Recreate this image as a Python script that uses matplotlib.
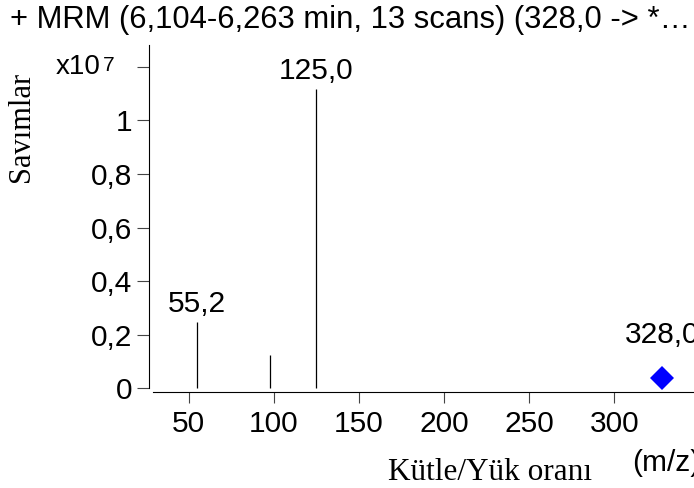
import matplotlib
matplotlib.use('Agg')
import matplotlib.pyplot as plt

plt.rcParams['font.family'] = ['Liberation Sans', 'DejaVu Sans']

# ---- data (counts in absolute units) ----
peak_mz = [55.2, 98.0, 125.0]
peak_counts = [0.246e7, 0.124e7, 1.116e7]
peak_labels = ["55,2", "", "125,0"]
precursor_mz = [328.0]
precursor_counts = [0.040e7]
precursor_labels = ["328,0"]
scale = 1e7
y_ticks = [0, 0.2, 0.4, 0.6, 0.8, 1.0, 1.2]
y_ticklabels = ["0", "0,2", "0,4", "0,6", "0,8", "1", ""]
x_ticks = [50, 100, 150, 200, 250, 300]
x_ticklabels = ["50", "100", "150", "200", "250", "300"]
title = "+ MRM (6,104-6,263 min, 13 scans) (328,0 -> *\u2026"

W, H = 694, 488
fig = plt.figure(figsize=(W / 100, H / 100), dpi=100)


def fx(px):
    return px / W


def fy(py):
    return (H - py) / H


ax = fig.add_axes([fx(149), fy(391.7), fx(720) - fx(149), fy(45) - fy(391.7)])
ax.set_xlim(26.8, 362.1)
ax.set_ylim(-0.0127, 1.281)
ax.patch.set_alpha(0)
for s in ['top', 'right']:
    ax.spines[s].set_visible(False)
for s in ['left', 'bottom']:
    ax.spines[s].set_linewidth(0.8)
    ax.spines[s].set_color('black')
ax.spines['left'].set_bounds(0, 1.281)
ax.spines['bottom'].set_bounds(29.0, 362.1)

heights = [c / scale for c in peak_counts]
ax.vlines(peak_mz, 0, heights, colors='black', lw=0.9)
for m, h, lab in zip(peak_mz, heights, peak_labels):
    if lab:
        ax.annotate(lab, xy=(m, h), xytext=(0, 7.6), textcoords='offset points',
                    ha='center', va='baseline', fontsize=21.5, annotation_clip=False)

pc = [c / scale for c in precursor_counts]
ax.plot(precursor_mz, pc, ls='none', marker='D', ms=12.5, color='#0000FF',
        mew=0, clip_on=False)
for m, h, lab in zip(precursor_mz, pc, precursor_labels):
    ax.annotate(lab, xy=(m, h), xytext=(0, 25), textcoords='offset points',
                ha='center', va='baseline', fontsize=21.5, annotation_clip=False)

ax.set_yticks(y_ticks)
ax.set_yticklabels(y_ticklabels)
ax.set_xticks(x_ticks)
ax.set_xticklabels(x_ticklabels)
ax.tick_params(axis='y', direction='out', length=8.5, width=0.8, color='#444444',
               labelsize=21.5, pad=3.6)
ax.tick_params(axis='x', direction='out', length=8, width=0.8, color='#444444',
               labelsize=21.5, pad=5.5)

# exponent label at top of y axis
fig.text(fx(100.5), fy(67.5), "x10", ha='right', va='center', fontsize=20)
fig.text(fx(103), fy(56), "7", ha='left', va='top', fontsize=15)

# title
fig.text(fx(10), fy(28), title, ha='left', va='baseline', fontsize=22.3)

# axis labels
fig.text(fx(22), fy(127), "Savımlar", rotation=90, ha='center', va='center',
         fontsize=22, family=['Liberation Serif', 'DejaVu Serif'])
fig.text(fx(490), fy(480), "Kütle/Yük oranı", ha='center', va='baseline',
         fontsize=22.5, family=['Liberation Serif', 'DejaVu Serif'])
fig.text(fx(632), fy(471), "(m/z)", ha='left', va='baseline', fontsize=21.5)

fig.savefig('out.png', dpi=100)
